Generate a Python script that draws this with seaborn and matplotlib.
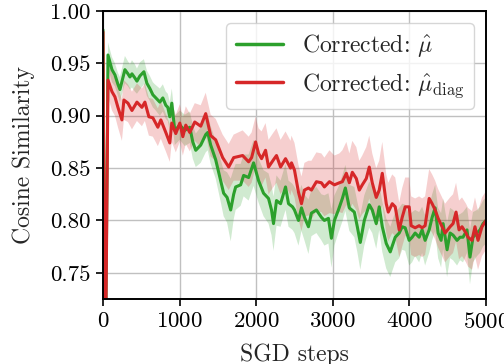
import numpy as np
import pandas as pd
import matplotlib
matplotlib.use("Agg")
import matplotlib.pyplot as plt
import seaborn as sns

# Mean cosine similarity (and spread across runs) against SGD steps
green_steps = [0, 25, 65, 117, 156, 195, 221, 286, 326, 352, 378, 417, 443, 482, 534, 573,
               612, 651, 677, 742, 781, 820, 846, 872, 898, 937, 1003, 1068, 1133, 1172,
               1211, 1276, 1341, 1367, 1406, 1471, 1536, 1575, 1620, 1667, 1706, 1732,
               1797, 1836, 1901, 1966, 2031, 2096, 2161, 2200, 2226, 2265, 2318, 2383,
               2422, 2474, 2500, 2552, 2591, 2630, 2682, 2721, 2786, 2851, 2890, 2943,
               2982, 3021, 3073, 3125, 3164, 3216, 3281, 3320, 3359, 3411, 3476, 3515,
               3567, 3606, 3646, 3698, 3750, 3815, 3867, 3906, 3945, 3997, 4036, 4075,
               4127, 4166, 4205, 4258, 4297, 4336, 4375, 4414, 4440, 4492, 4531, 4570,
               4622, 4661, 4700, 4752, 4791, 4830, 4883, 4922, 4961, 5000]
green_mean = [0.982, 0.60, 0.958, 0.944, 0.939, 0.930, 0.925, 0.944, 0.940, 0.937, 0.940,
              0.936, 0.933, 0.938, 0.942, 0.931, 0.926, 0.920, 0.918, 0.913, 0.917, 0.910,
              0.908, 0.899, 0.912, 0.886, 0.891, 0.886, 0.889, 0.875, 0.867, 0.872, 0.882,
              0.884, 0.872, 0.858, 0.838, 0.826, 0.822, 0.810, 0.825, 0.832, 0.834, 0.843,
              0.841, 0.855, 0.838, 0.826, 0.821, 0.810, 0.797, 0.819, 0.816, 0.832, 0.816,
              0.813, 0.810, 0.800, 0.812, 0.803, 0.794, 0.807, 0.810, 0.803, 0.800, 0.802,
              0.783, 0.800, 0.810, 0.821, 0.831, 0.812, 0.808, 0.794, 0.779, 0.800, 0.815,
              0.810, 0.797, 0.813, 0.794, 0.778, 0.770, 0.784, 0.788, 0.794, 0.793, 0.781,
              0.784, 0.788, 0.784, 0.791, 0.781, 0.791, 0.803, 0.812, 0.788, 0.781, 0.797,
              0.772, 0.788, 0.786, 0.781, 0.784, 0.784, 0.791, 0.765, 0.784, 0.788, 0.791,
              0.797, 0.800]
green_spread = [0.0, 0.0, 0.012, 0.012, 0.011, 0.011, 0.012, 0.013, 0.012, 0.012, 0.013,
                0.013, 0.012, 0.013, 0.012, 0.012, 0.012, 0.012, 0.012, 0.013, 0.013, 0.013,
                0.013, 0.014, 0.014, 0.014, 0.014, 0.015, 0.015, 0.016, 0.016, 0.017, 0.017,
                0.017, 0.018, 0.018, 0.020, 0.022, 0.024, 0.030, 0.024, 0.022, 0.020, 0.020,
                0.022, 0.022, 0.021, 0.022, 0.024, 0.024, 0.026, 0.024, 0.022, 0.022, 0.022,
                0.022, 0.022, 0.024, 0.022, 0.022, 0.026, 0.022, 0.022, 0.022, 0.024, 0.024,
                0.028, 0.024, 0.022, 0.022, 0.022, 0.022, 0.024, 0.024, 0.026, 0.024, 0.022,
                0.022, 0.024, 0.022, 0.024, 0.024, 0.024, 0.024, 0.024, 0.022, 0.022, 0.024,
                0.024, 0.022, 0.024, 0.022, 0.024, 0.022, 0.022, 0.022, 0.024, 0.026, 0.024,
                0.026, 0.024, 0.024, 0.024, 0.022, 0.024, 0.022, 0.026, 0.024, 0.022, 0.022,
                0.022, 0.022]

red_steps = [0, 25, 65, 117, 156, 195, 247, 273, 326, 378, 443, 508, 547, 599, 651, 716,
             755, 820, 872, 898, 950, 1003, 1042, 1081, 1133, 1198, 1276, 1341, 1406, 1471,
             1562, 1641, 1706, 1823, 1901, 1940, 1992, 2031, 2070, 2122, 2161, 2226, 2265,
             2318, 2383, 2448, 2461, 2500, 2552, 2591, 2630, 2682, 2721, 2786, 2851, 2890,
             2956, 3021, 3086, 3125, 3177, 3216, 3255, 3307, 3346, 3385, 3437, 3476, 3515,
             3567, 3606, 3646, 3698, 3724, 3776, 3815, 3867, 3906, 3945, 3997, 4023, 4075,
             4127, 4166, 4205, 4258, 4297, 4336, 4375, 4427, 4466, 4531, 4570, 4609, 4648,
             4687, 4739, 4765, 4817, 4856, 4896, 4948, 5000]
red_mean = [0.980, 0.60, 0.934, 0.923, 0.918, 0.908, 0.896, 0.915, 0.912, 0.905, 0.913,
            0.908, 0.913, 0.899, 0.898, 0.889, 0.896, 0.884, 0.874, 0.893, 0.883, 0.893,
            0.880, 0.891, 0.884, 0.894, 0.890, 0.902, 0.881, 0.877, 0.860, 0.851, 0.860,
            0.862, 0.856, 0.860, 0.875, 0.864, 0.859, 0.867, 0.851, 0.858, 0.862, 0.851,
            0.859, 0.850, 0.855, 0.848, 0.827, 0.816, 0.829, 0.831, 0.829, 0.837, 0.836,
            0.832, 0.837, 0.834, 0.836, 0.837, 0.845, 0.836, 0.846, 0.840, 0.829, 0.834,
            0.840, 0.851, 0.836, 0.822, 0.829, 0.845, 0.816, 0.808, 0.816, 0.813, 0.791,
            0.803, 0.813, 0.813, 0.795, 0.793, 0.795, 0.793, 0.795, 0.821, 0.816, 0.810,
            0.802, 0.794, 0.788, 0.794, 0.797, 0.808, 0.791, 0.794, 0.788, 0.784, 0.781,
            0.794, 0.781, 0.794, 0.800]
red_spread = [0.0, 0.0, 0.015, 0.018, 0.018, 0.019, 0.020, 0.019, 0.018, 0.018, 0.018,
              0.018, 0.018, 0.018, 0.018, 0.018, 0.018, 0.018, 0.018, 0.018, 0.018, 0.018,
              0.018, 0.018, 0.018, 0.018, 0.020, 0.020, 0.020, 0.020, 0.022, 0.022, 0.022,
              0.024, 0.024, 0.024, 0.024, 0.024, 0.026, 0.026, 0.026, 0.026, 0.026, 0.026,
              0.026, 0.026, 0.026, 0.026, 0.026, 0.026, 0.026, 0.026, 0.028, 0.028, 0.028,
              0.028, 0.030, 0.028, 0.028, 0.030, 0.030, 0.028, 0.030, 0.030, 0.028, 0.028,
              0.030, 0.030, 0.028, 0.028, 0.028, 0.030, 0.028, 0.028, 0.028, 0.028, 0.026,
              0.028, 0.028, 0.028, 0.028, 0.028, 0.028, 0.028, 0.028, 0.028, 0.028, 0.028,
              0.028, 0.028, 0.028, 0.028, 0.028, 0.028, 0.028, 0.028, 0.028, 0.028, 0.028,
              0.028, 0.028, 0.028, 0.028]

labels = [r"Corrected: $\hat{\mu}$", r"Corrected: $\hat{\mu}_{\mathrm{diag}}$"]
colors = ["#2ca02c", "#d62728"]

sns.set_theme(style="whitegrid")
plt.rcParams.update({
    "font.family": "serif",
    "font.serif": ["cmr10"],
    "mathtext.fontset": "cm",
    "axes.formatter.use_mathtext": True,
    "font.size": 16.5,
    "axes.edgecolor": "black",
    "axes.linewidth": 1.4,
    "grid.color": "#c0c0c0",
    "grid.linewidth": 1.0,
    "xtick.bottom": True,
    "ytick.left": True,
    "xtick.major.size": 5,
    "ytick.major.size": 5,
    "xtick.major.width": 1.2,
    "ytick.major.width": 1.2,
    "xtick.color": "black",
    "ytick.color": "black",
})

df = pd.concat([
    pd.DataFrame({"step": green_steps, "sim": green_mean, "spread": green_spread, "method": labels[0]}),
    pd.DataFrame({"step": red_steps, "sim": red_mean, "spread": red_spread, "method": labels[1]}),
])

fig = plt.figure(figsize=(5.04, 3.64), dpi=100)
ax = fig.add_axes([103 / 504, 1 - 299 / 364, 383 / 504, 288 / 364])

for lab, col in zip(labels, colors):
    sub = df[df["method"] == lab]
    ax.fill_between(sub["step"], sub["sim"] - sub["spread"], sub["sim"] + sub["spread"],
                    color=col, alpha=0.22, linewidth=0)

sns.lineplot(data=df, x="step", y="sim", hue="method", palette=colors,
             linewidth=2.2, ax=ax, sort=False, estimator=None)

ax.set_xlim(0, 5000)
ax.set_ylim(0.725, 1.0)
ax.set_xticks([0, 1000, 2000, 3000, 4000, 5000])
ax.set_yticks([0.75, 0.80, 0.85, 0.90, 0.95, 1.00])
ax.set_yticklabels(["0.75", "0.80", "0.85", "0.90", "0.95", "1.00"])
ax.tick_params(labelsize=16.5, pad=4)
ax.set_xlabel("SGD steps", fontsize=17, labelpad=9)
ax.set_ylabel("Cosine Similarity", fontsize=17, labelpad=11)
for s in ax.spines.values():
    s.set_color("black")
    s.set_linewidth(1.4)

leg = ax.legend(loc="upper right", fontsize=17, frameon=True, fancybox=True,
                framealpha=0.8, edgecolor="#cccccc", borderaxespad=0.5,
                handlelength=2.0, handletextpad=0.8)
for line in leg.get_lines():
    line.set_linewidth(2.5)

fig.savefig("out.png", dpi=100)
